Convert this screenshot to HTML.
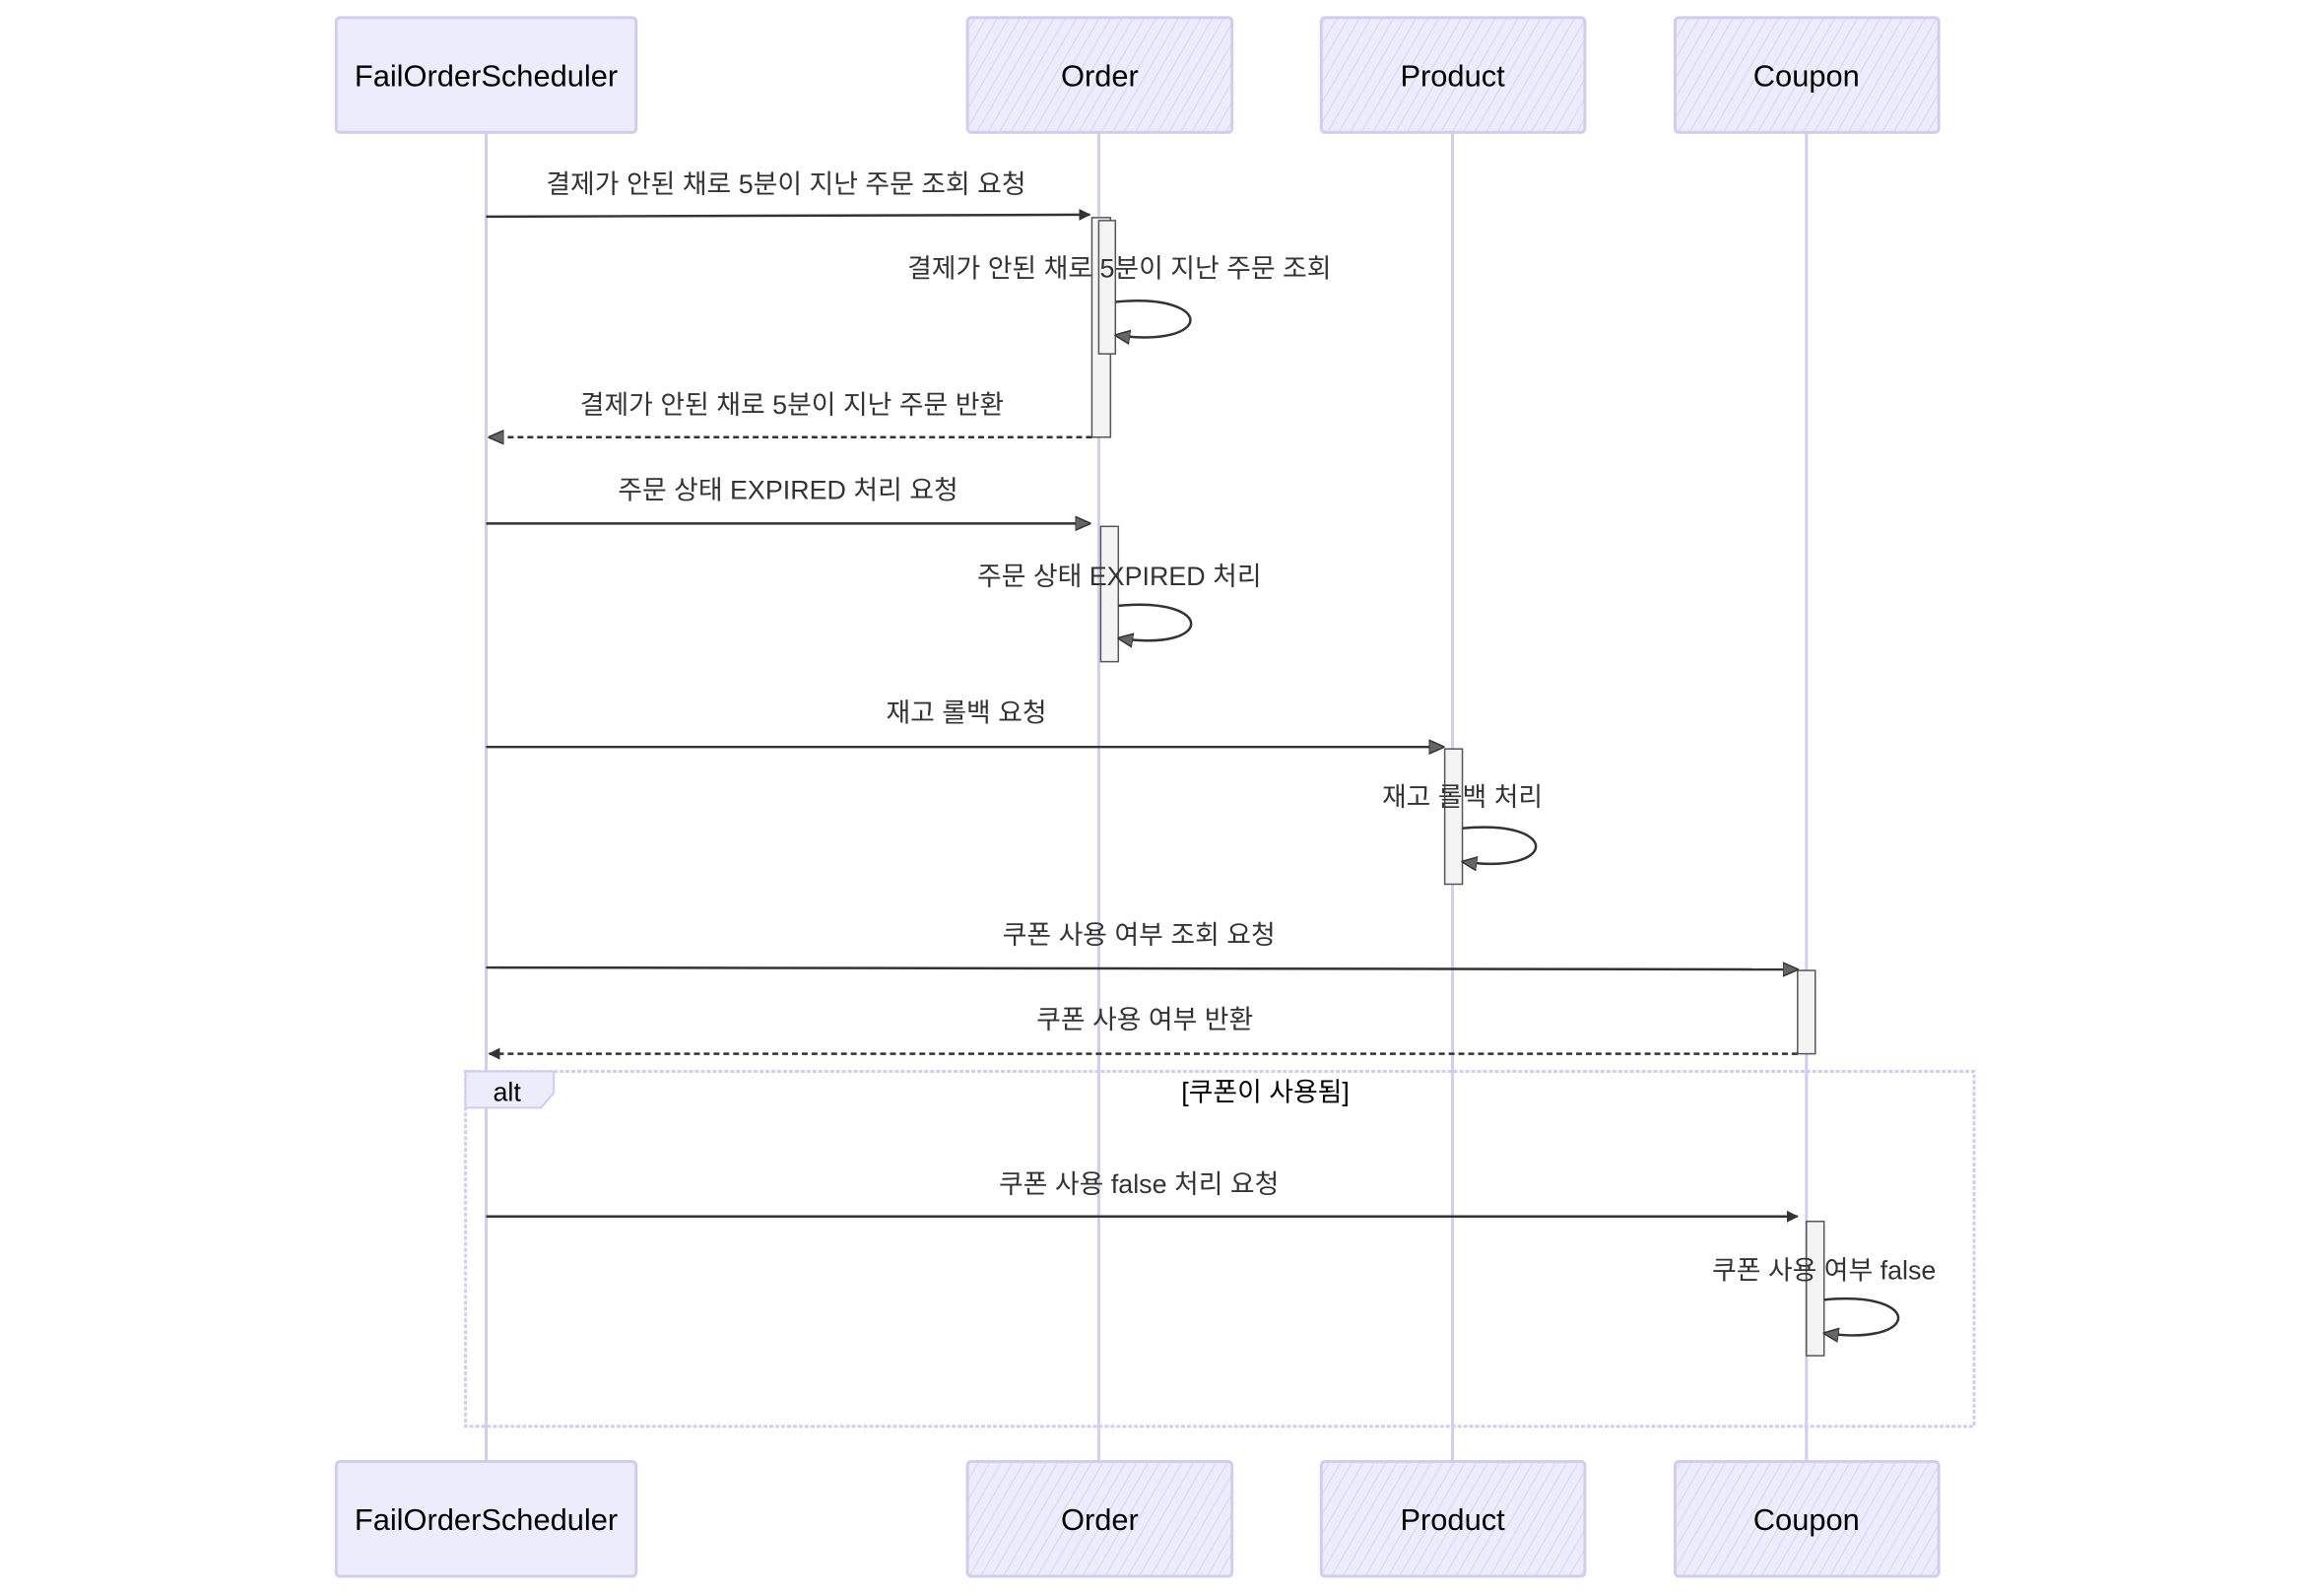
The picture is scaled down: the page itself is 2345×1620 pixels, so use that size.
<!DOCTYPE html>
<html><head><meta charset="utf-8"><style>
html,body{margin:0;padding:0;background:#fff;}
svg{display:block;}
text{font-family:"Liberation Sans","Noto Sans CJK KR",sans-serif;}
</style></head><body>
<svg width="2345" height="1620" viewBox="0 0 2345 1620" xmlns="http://www.w3.org/2000/svg">
<defs>
<pattern id="h" width="10" height="10" patternUnits="userSpaceOnUse" patternTransform="rotate(30)">
<rect width="10" height="10" fill="#ececfd"/><line x1="0" y1="0" x2="0" y2="10" stroke="#d7d2f5" stroke-width="2"/>
</pattern>
<marker id="af" markerWidth="12" markerHeight="12" refX="11" refY="6" orient="auto" markerUnits="userSpaceOnUse"><path d="M0,0 L12,6 L0,12 z" fill="#333"/></marker>
<marker id="ao" markerWidth="16" markerHeight="16" refX="15" refY="8" orient="auto" markerUnits="userSpaceOnUse"><path d="M0,1 L16,8 L0,15 z" fill="#666" stroke="#333" stroke-width="1.5"/></marker>
</defs>
<g transform="scale(0.995)">
<g stroke="#d4cbf0" stroke-width="3">
<line x1="496" y1="135" x2="496" y2="1491"/>
<line x1="1121" y1="135" x2="1121" y2="1491"/>
<line x1="1482" y1="135" x2="1482" y2="1491"/>
<line x1="1843" y1="135" x2="1843" y2="1491"/>
</g>
<g fill="url(#h)" stroke="#d4cbf0" stroke-width="3">
<rect x="343" y="18" width="306" height="117" rx="4" fill="#ececfd"/>
<rect x="987" y="18" width="270" height="117" rx="4"/>
<rect x="1348" y="18" width="269" height="117" rx="4"/>
<rect x="1709" y="18" width="269" height="117" rx="4"/>
<rect x="343" y="1491" width="306" height="117" rx="4" fill="#ececfd"/>
<rect x="987" y="1491" width="270" height="117" rx="4"/>
<rect x="1348" y="1491" width="269" height="117" rx="4"/>
<rect x="1709" y="1491" width="269" height="117" rx="4"/>
</g>
<g font-size="31" text-anchor="middle" fill="#000">
<text x="496" y="88">FailOrderScheduler</text>
<text x="1122" y="88">Order</text>
<text x="1482" y="88">Product</text>
<text x="1843" y="88">Coupon</text>
<text x="496" y="1561">FailOrderScheduler</text>
<text x="1122" y="1561">Order</text>
<text x="1482" y="1561">Product</text>
<text x="1843" y="1561">Coupon</text>
</g>
<rect x="475" y="1093" width="1539" height="362" fill="none" stroke="#d4cbf0" stroke-width="3" stroke-dasharray="4,2"/>
<path d="M475,1093 L565,1093 L565,1115 L552,1130 L475,1130 z" fill="#ececfd" stroke="#d4cbf0" stroke-width="2"/>
<text x="503" y="1123" font-size="27" fill="#000">alt</text>
<text x="1291" y="1123" font-size="27" fill="#000" text-anchor="middle">[쿠폰이 사용됨]</text>
<g fill="#f4f4f4" stroke="#555" stroke-width="1.5">
<rect x="1114" y="222" width="19" height="224"/>
<rect x="1121" y="225" width="17" height="136"/>
<rect x="1123" y="537" width="18" height="138"/>
<rect x="1474" y="764" width="18" height="138"/>
<rect x="1834" y="990" width="18" height="85"/>
<rect x="1843" y="1246" width="18" height="137"/>
</g>
<g stroke="#333" stroke-width="2.5" fill="none">
<line x1="496" y1="221" x2="1112" y2="219" marker-end="url(#af)"/>
<path d="M1138,308 C1240,298 1240,356 1138,342" marker-end="url(#ao)"/>
<line x1="1114" y1="446" x2="499" y2="446" stroke-dasharray="6,4" marker-end="url(#ao)"/>
<line x1="496" y1="534" x2="1112" y2="534" marker-end="url(#ao)"/>
<path d="M1141,618 C1240,608 1240,666 1141,651" marker-end="url(#ao)"/>
<line x1="496" y1="762" x2="1473" y2="762" marker-end="url(#ao)"/>
<path d="M1492,845 C1592,835 1592,893 1492,879" marker-end="url(#ao)"/>
<line x1="496" y1="987" x2="1834" y2="989" marker-end="url(#ao)"/>
<line x1="1834" y1="1075" x2="499" y2="1075" stroke-dasharray="6,4" marker-end="url(#af)"/>
<line x1="496" y1="1241" x2="1834" y2="1241" marker-end="url(#af)"/>
<path d="M1861,1326 C1962,1316 1962,1374 1861,1360" marker-end="url(#ao)"/>
</g>
<g font-size="27" text-anchor="middle" fill="#333">
<text x="802" y="197">결제가 안된 채로 5분이 지난 주문 조회 요청</text>
<text x="1142" y="283">결제가 안된 채로 5분이 지난 주문 조회</text>
<text x="808" y="422">결제가 안된 채로 5분이 지난 주문 반환</text>
<text x="804" y="509">주문 상태 EXPIRED 처리 요청</text>
<text x="1142" y="597">주문 상태 EXPIRED 처리</text>
<text x="986" y="736">재고 롤백 요청</text>
<text x="1492" y="822">재고 롤백 처리</text>
<text x="1162" y="963">쿠폰 사용 여부 조회 요청</text>
<text x="1168" y="1049">쿠폰 사용 여부 반환</text>
<text x="1162" y="1217">쿠폰 사용 false 처리 요청</text>
<text x="1861" y="1305">쿠폰 사용 여부 false</text>
</g>
</g>
</svg>
</body></html>
